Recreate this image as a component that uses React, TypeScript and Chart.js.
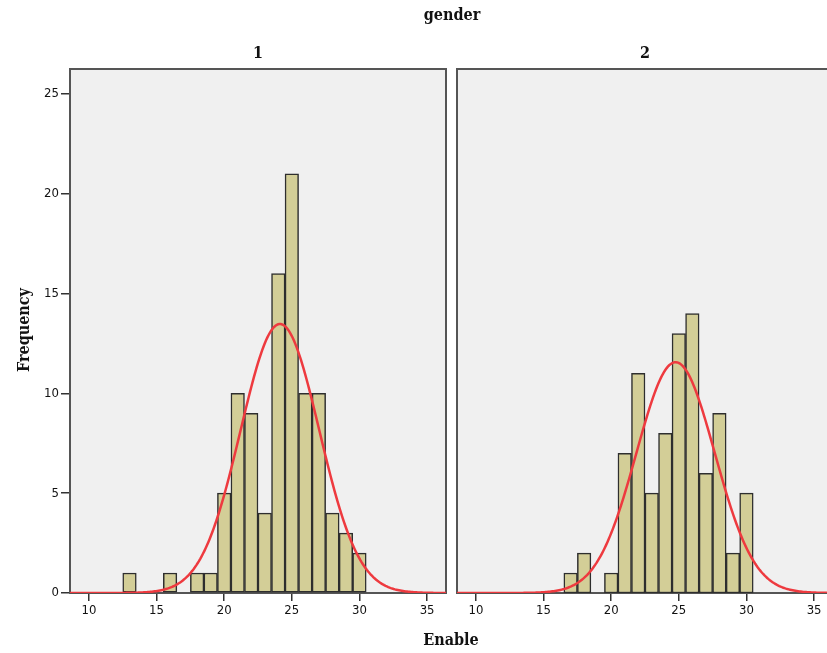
import React, { useEffect, useRef } from "react";
import { Chart, registerables } from "chart.js";

Chart.register(...registerables);

// ---- data ----
const supTitle = "gender";
const xAxisTitle = "Enable";
const yAxisTitle = "Frequency";
const panelTitles = ["1", "2"];

const binCenters1 = [13, 14, 15, 16, 17, 18, 19, 20, 21, 22, 23, 24, 25, 26, 27, 28, 29, 30];
const counts1 = [1, null, null, 1, null, 1, 1, 5, 10, 9, 4, 16, 21, 10, 10, 4, 3, 2];

const binCenters2 = [17, 18, 19, 20, 21, 22, 23, 24, 25, 26, 27, 28, 29, 30];
const counts2 = [1, 2, null, 1, 7, 11, 5, 8, 13, 14, 6, 9, 2, 5];

const xTickValues = [10, 15, 20, 25, 30, 35];
const yTickValues = [0, 5, 10, 15, 20, 25];

const X_MIN = 8.6;
const X_MAX = 36.4;
const Y_MAX = 26.25;

const TICK_FONT = { family: "'DejaVu Sans Condensed', 'DejaVu Sans', sans-serif", size: 13 };
const TITLE_FONT = "'DejaVu Serif Condensed', 'DejaVu Serif', serif";

// normal curve fitted to the histogram (mean / sd of the binned data)
function fittedCurve(centers: number[], counts: (number | null)[]) {
  let n = 0, s = 0, ss = 0;
  centers.forEach((c, i) => {
    const k = counts[i] ?? 0;
    n += k; s += k * c; ss += k * c * c;
  });
  const mean = s / n;
  const sd = Math.sqrt((ss - n * mean * mean) / (n - 1));
  const pts: { x: number; y: number }[] = [];
  const steps = 280;
  for (let i = 0; i <= steps; i++) {
    const x = X_MIN + ((X_MAX - X_MIN) * i) / steps;
    const y = (n / (sd * Math.sqrt(2 * Math.PI))) * Math.exp(-0.5 * ((x - mean) / sd) ** 2);
    pts.push({ x, y });
  }
  return pts;
}

const framePlugin = {
  id: "frame",
  beforeDraw(chart: any) {
    const { ctx, chartArea: a } = chart;
    ctx.save();
    ctx.fillStyle = "#f0f0f0";
    ctx.fillRect(a.left, a.top, a.right - a.left, a.bottom - a.top);
    ctx.restore();
  },
  beforeDatasetsDraw(chart: any) {
    const { ctx, chartArea: a } = chart;
    ctx.save();
    ctx.strokeStyle = "#555555";
    ctx.lineWidth = 2;
    ctx.strokeRect(a.left, a.top, a.right - a.left, a.bottom - a.top);
    ctx.restore();
  },
};

function makeConfig(centers: number[], counts: (number | null)[], showY: boolean, padRight: number, yWidth: number): any {
  return {
    type: "bar",
    data: {
      datasets: [
        {
          type: "line",
          data: fittedCurve(centers, counts),
          borderColor: "#ee3a3f",
          borderWidth: 2.5,
          pointRadius: 0,
          tension: 0,
          order: 0,
        },
        {
          type: "bar",
          data: centers.map((c, i) => ({ x: c, y: counts[i] })),
          backgroundColor: "#d3ce97",
          borderColor: "#2e2e2e",
          borderWidth: 1.5,
          borderSkipped: false,
          barPercentage: 1,
          categoryPercentage: 1,
          order: 1,
        },
      ],
    },
    options: {
      animation: false,
      responsive: false,
      maintainAspectRatio: false,
      layout: { padding: { top: 69, right: padRight, left: 0, bottom: 0 } },
      plugins: { legend: { display: false }, tooltip: { enabled: false } },
      scales: {
        x: {
          type: "linear",
          offset: false,
          min: X_MIN,
          max: X_MAX,
          afterBuildTicks: (s: any) => {
            s.ticks = xTickValues.map((v) => ({ value: v }));
          },
          afterFit: (s: any) => {
            s.height = 60;
          },
          grid: { display: true, offset: false, drawOnChartArea: false, drawTicks: true, tickLength: 8, color: "#333", lineWidth: 1.5 },
          border: { display: false },
          ticks: { font: TICK_FONT, color: "#111", padding: 2, maxRotation: 0, autoSkip: false },
        },
        y: {
          type: "linear",
          min: 0,
          max: Y_MAX,
          afterBuildTicks: (s: any) => {
            s.ticks = yTickValues.map((v) => ({ value: v }));
          },
          afterFit: (s: any) => {
            s.width = yWidth;
          },
          grid: { display: showY, drawOnChartArea: false, drawTicks: true, tickLength: 9, color: "#333", lineWidth: 1.5 },
          border: { display: false },
          ticks: { display: showY, font: TICK_FONT, color: "#111", padding: 2, autoSkip: false },
        },
      },
    },
    plugins: [framePlugin],
  };
}

function Panel({ left, width, centers, counts, showY, padRight, yWidth }: any) {
  const ref = useRef<HTMLCanvasElement>(null);
  useEffect(() => {
    if (!ref.current) return;
    const chart = new Chart(ref.current, makeConfig(centers, counts, showY, padRight, yWidth));
    return () => chart.destroy();
  }, []);
  return (
    <canvas
      ref={ref}
      width={width}
      height={653}
      style={{ position: "absolute", left, top: 0, width, height: 653 }}
    />
  );
}

const textStyle: React.CSSProperties = {
  position: "absolute",
  fontFamily: TITLE_FONT,
  fontWeight: "bold",
  fontSize: 16,
  color: "#111",
  whiteSpace: "nowrap",
  transform: "translate(-50%, -50%)",
  lineHeight: 1,
};

export default function App() {
  return (
    <div
      style={{
        position: "fixed",
        left: 0,
        top: 0,
        width: 827,
        height: 653,
        overflow: "hidden",
        background: "#ffffff",
      }}
    >
      <Panel left={0} width={451} centers={binCenters1} counts={counts1} showY={true} padRight={5} yWidth={70} />
      <Panel left={451} width={389} centers={binCenters2} counts={counts2} showY={false} padRight={7} yWidth={6} />
      <div style={{ ...textStyle, left: 452, top: 15 }}>{supTitle}</div>
      <div style={{ ...textStyle, left: 258, top: 53 }}>{panelTitles[0]}</div>
      <div style={{ ...textStyle, left: 645, top: 53 }}>{panelTitles[1]}</div>
      <div style={{ ...textStyle, left: 451, top: 640 }}>{xAxisTitle}</div>
      <div style={{ ...textStyle, left: 24, top: 330, transform: "translate(-50%, -50%) rotate(-90deg)" }}>
        {yAxisTitle}
      </div>
    </div>
  );
}
